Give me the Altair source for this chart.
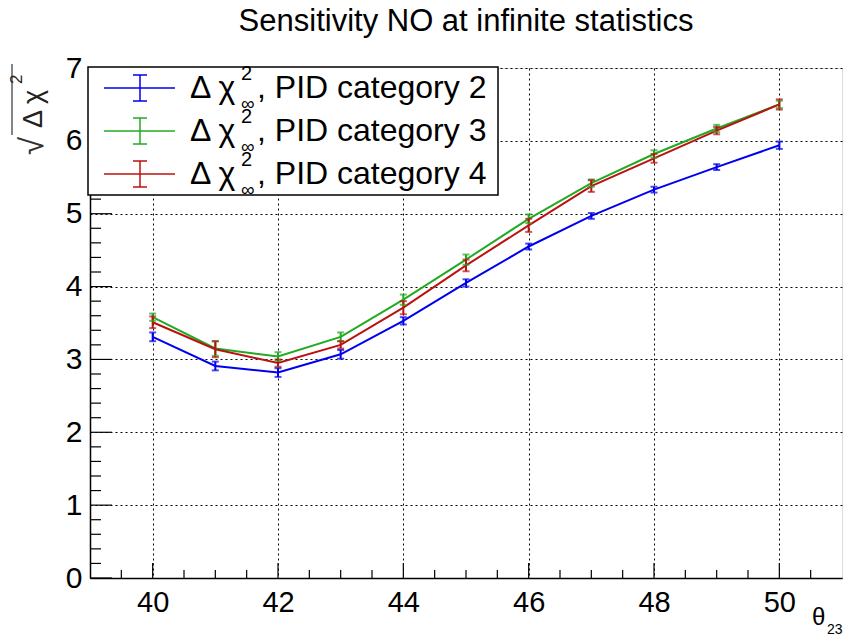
import altair as alt
import pandas as pd

# ---- data ----
theta = [40, 41, 42, 43, 44, 45, 46, 47, 48, 49, 50]
cat2 = [3.31, 2.91, 2.82, 3.07, 3.53, 4.05, 4.55, 4.97, 5.33, 5.64, 5.94]
cat3 = [3.58, 3.15, 3.04, 3.31, 3.82, 4.37, 4.93, 5.42, 5.82, 6.17, 6.50]
cat4 = [3.51, 3.14, 2.95, 3.20, 3.71, 4.29, 4.84, 5.38, 5.76, 6.14, 6.50]
err2 = [0.06, 0.06, 0.06, 0.06, 0.05, 0.05, 0.04, 0.04, 0.04, 0.04, 0.05]
err3 = [0.05, 0.10, 0.06, 0.06, 0.07, 0.07, 0.06, 0.05, 0.05, 0.05, 0.05]
err4 = [0.08, 0.11, 0.05, 0.05, 0.09, 0.08, 0.09, 0.08, 0.06, 0.05, 0.07]

series_names = ["PID category 2", "PID category 3", "PID category 4"]
series_colors = ["#0000ee", "#22aa22", "#bb1111"]

x_major = [40, 42, 44, 46, 48, 50]
x_minor = [39.5, 40.5, 41, 41.5, 42.5, 43, 43.5, 44.5, 45, 45.5, 46.5, 47, 47.5,
           48.5, 49, 49.5, 50.5]
y_major = [0, 1, 2, 3, 4, 5, 6, 7]
y_minor = [0.2, 0.4, 0.6, 0.8, 1.2, 1.4, 1.6, 1.8, 2.2, 2.4, 2.6, 2.8,
           3.2, 3.4, 3.6, 3.8, 4.2, 4.4, 4.6, 4.8, 5.2, 5.4, 5.6, 5.8,
           6.2, 6.4, 6.6, 6.8]

title_text = "Sensitivity NO at infinite statistics"
FONT = "Liberation Sans"
W, H = 752, 510

rows = []
for name, vals, errs in zip(series_names, [cat2, cat3, cat4], [err2, err3, err4]):
    for t, v, e in zip(theta, vals, errs):
        rows.append({"theta": t, "val": v, "lo": v - e, "hi": v + e, "series": name})
df = pd.DataFrame(rows)

xs = alt.Scale(domain=[39, 51], nice=False, zero=False)
ys = alt.Scale(domain=[0, 7], nice=False, zero=False)
color = alt.Color("series:N", scale=alt.Scale(domain=series_names, range=series_colors), legend=None)

base = alt.Chart(df)

axis_x = alt.Axis(values=x_major, format="d", grid=True, gridDash=[2, 3], gridColor="black",
                  gridOpacity=1, gridWidth=1, ticks=False, domainColor="black", domainWidth=1.5,
                  labelFont=FONT, labelFontSize=29, labelColor="black", labelPadding=10,
                  labelOverlap=False, labelFlush=False, title=None)
axis_y = alt.Axis(values=y_major, format="d", grid=True, gridDash=[2, 3], gridColor="black",
                  gridOpacity=1, gridWidth=1, ticks=False, domainColor="black", domainWidth=1.5,
                  labelFont=FONT, labelFontSize=30, labelColor="black", labelPadding=8,
                  labelOverlap=False, labelFlush=False, title=None)

lines = base.mark_line(strokeWidth=2).encode(
    x=alt.X("theta:Q", scale=xs, axis=axis_x),
    y=alt.Y("val:Q", scale=ys, axis=axis_y),
    color=color, detail="series:N")
bars = base.mark_rule(strokeWidth=2).encode(
    x="theta:Q", y="lo:Q", y2="hi:Q", color=color)
cap_lo = base.mark_tick(orient="horizontal", size=7, thickness=2).encode(
    x="theta:Q", y="lo:Q", color=color)
cap_hi = base.mark_tick(orient="horizontal", size=7, thickness=2).encode(
    x="theta:Q", y="hi:Q", color=color)

# inward ticks
xmaj = alt.Chart(pd.DataFrame({"t": x_major})).mark_rule(color="black", strokeWidth=1.2).encode(
    x="t:Q", y=alt.value(H), y2=alt.value(H - 15))
xmin = alt.Chart(pd.DataFrame({"t": x_minor})).mark_rule(color="black", strokeWidth=1.2).encode(
    x="t:Q", y=alt.value(H), y2=alt.value(H - 8))
ymaj = alt.Chart(pd.DataFrame({"t": y_major})).mark_rule(color="black", strokeWidth=1.2).encode(
    y="t:Q", x=alt.value(0), x2=alt.value(22))
ymin = alt.Chart(pd.DataFrame({"t": y_minor})).mark_rule(color="black", strokeWidth=1.2).encode(
    y="t:Q", x=alt.value(0), x2=alt.value(11))

one = pd.DataFrame({"a": [0]})


def txt(text, x, y, size, align="left", baseline="middle", angle=0, color="black"):
    kw = dict(text=text, fontSize=size, font=FONT, align=align, baseline=baseline, color=color)
    if angle:
        kw["angle"] = angle
    return alt.Chart(one).mark_text(**kw).encode(x=alt.value(x), y=alt.value(y))


def rule(x, x2, y, y2, color="black", w=1.0):
    return alt.Chart(one).mark_rule(color=color, strokeWidth=w).encode(
        x=alt.value(x), x2=alt.value(x2), y=alt.value(y), y2=alt.value(y2))


layers = [xmin, xmaj, ymin, ymaj, lines, bars, cap_lo, cap_hi]

# legend
legend_box = alt.Chart(one).mark_rect(fill="white", stroke="black", strokeWidth=1.5).encode(
    x=alt.value(-2), x2=alt.value(408), y=alt.value(-1), y2=alt.value(127))
layers.append(legend_box)
for i, (name, col) in enumerate(zip(series_names, series_colors)):
    y0 = 20 + 43 * i
    layers.append(rule(14, 85, y0, y0, col, 1.5))
    layers.append(rule(50, 50, y0 - 13, y0 + 13, col, 1.5))
    layers.append(rule(43, 57, y0 - 13, y0 - 13, col, 1.5))
    layers.append(rule(43, 57, y0 + 13, y0 + 13, col, 1.5))
    layers.append(txt("Δ χ", 100, y0, 32))
    layers.append(txt("2", 151, y0 - 14, 20))
    layers.append(txt("∞", 151, y0 + 16, 19))
    layers.append(txt(", " + name, 167, y0, 32))

# title
layers.append(txt(title_text, W / 2, -46, 31, align="center"))
# y title: sqrt(Δ χ^2)
layers.append(txt("Δ χ", -48, 60, 27, angle=270, baseline="alphabetic", color="#222222"))
layers.append(txt("2", -68, 16, 17, angle=270, baseline="alphabetic", color="#222222"))
layers.append(txt("√", -47, 87, 33, angle=270, baseline="alphabetic", color="#333333"))
layers.append(rule(-78, -78, -4, 67, "#333333", 1.2))
# x title
layers.append(txt("θ", 722, 550, 24))
layers.append(txt("23", 737, 562, 14))

chart = alt.layer(*layers).properties(
    width=W, height=H,
    padding={"left": 90, "top": 68, "right": 1, "bottom": 59},
    autosize=alt.AutoSizeParams(type="none"),
).configure_view(stroke="black", strokeWidth=1.2).configure(background="white")

chart.save("out.html", embed_options={"renderer": "svg", "actions": False})
